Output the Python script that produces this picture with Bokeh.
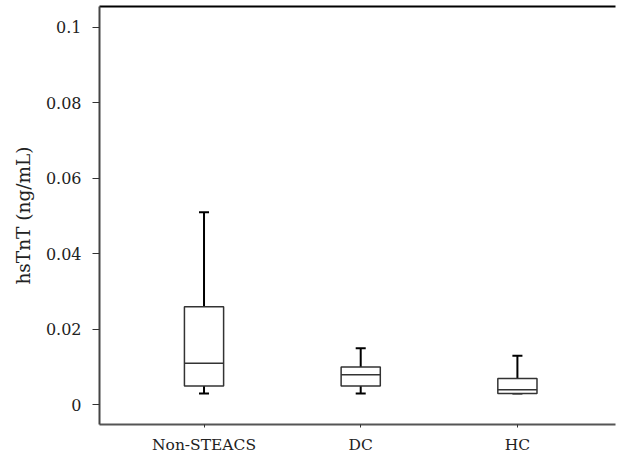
from bokeh.plotting import figure
from bokeh.models import LinearAxis, FixedTicker, Range1d
from bokeh.embed import file_html
from bokeh.resources import INLINE

# Data
categories = ["Non-STEACS", "DC", "HC"]
whisker_low = [0.003, 0.003, 0.003]
q1 = [0.005, 0.005, 0.003]
median = [0.011, 0.008, 0.004]
q3 = [0.026, 0.010, 0.007]
whisker_high = [0.051, 0.015, 0.013]
y_ticks = [0, 0.02, 0.04, 0.06, 0.08, 0.1]
y_tick_labels = ["0", "0.02", "0.04", "0.06", "0.08", "0.1"]

xs = [i + 1 for i in range(len(categories))]
box_half = 0.125
cap_half = 0.032

FONT = "DejaVu Serif"

p = figure(width=618, height=456, output_backend="svg", toolbar_location=None,
           x_range=Range1d(0.333, 3.626), y_range=Range1d(-0.0052, 0.1055),
           min_border_left=99, min_border_right=3, min_border_top=6, min_border_bottom=29)
p.outline_line_color = None
p.xgrid.visible = False
p.ygrid.visible = False
p.background_fill_color = "white"
p.border_fill_color = "white"

# whiskers
p.segment(x0=xs, y0=q3, x1=xs, y1=whisker_high, line_color="black", line_width=2)
p.segment(x0=xs, y0=whisker_low, x1=xs, y1=q1, line_color="black", line_width=2)
# caps
p.segment(x0=[x - cap_half for x in xs], y0=whisker_high,
          x1=[x + cap_half for x in xs], y1=whisker_high, line_color="black", line_width=2)
p.segment(x0=[x - cap_half for x in xs], y0=whisker_low,
          x1=[x + cap_half for x in xs], y1=whisker_low, line_color="black", line_width=2)
# boxes
p.vbar(x=xs, width=2 * box_half, bottom=q1, top=q3, fill_color="white",
       line_color="#333333", line_width=1.5)
# medians
p.segment(x0=[x - box_half for x in xs], y0=median,
          x1=[x + box_half for x in xs], y1=median, line_color="#333333", line_width=1.5)

# axes
xa = p.xaxis[0]
xa.ticker = FixedTicker(ticks=xs)
xa.major_label_overrides = {x: c for x, c in zip(xs, categories)}
xa.minor_tick_line_color = None
xa.major_tick_in = 0
xa.major_tick_out = 3
xa.axis_line_color = "#555555"
xa.axis_line_width = 2
xa.major_tick_line_color = "#333333"
xa.major_label_text_font = FONT
xa.major_label_text_font_size = "15.5px"
xa.major_label_text_color = "#222222"
xa.major_label_standoff = 8

ya = p.yaxis[0]
ya.ticker = FixedTicker(ticks=y_ticks)
ya.major_label_overrides = {t: l for t, l in zip(y_ticks, y_tick_labels)}
ya.minor_tick_line_color = None
ya.major_tick_in = 0
ya.major_tick_out = 7
ya.axis_line_color = "#444444"
ya.axis_line_width = 2
ya.major_tick_line_color = "#333333"
ya.major_label_text_font = FONT
ya.major_label_text_font_size = "16px"
ya.major_label_text_color = "#222222"
ya.major_label_standoff = 11
ya.axis_label = "hsTnT (ng/mL)"
ya.axis_label_text_font = FONT
ya.axis_label_text_font_size = "18.5px"
ya.axis_label_text_font_style = "normal"
ya.axis_label_text_color = "#222222"
ya.axis_label_standoff = 9

top = LinearAxis(ticker=FixedTicker(ticks=[]), major_label_text_font_size="0px",
                 axis_line_color="black", axis_line_width=2,
                 major_tick_line_color=None, minor_tick_line_color=None)
p.add_layout(top, "above")

open("out.html", "w").write(file_html(p, INLINE))
